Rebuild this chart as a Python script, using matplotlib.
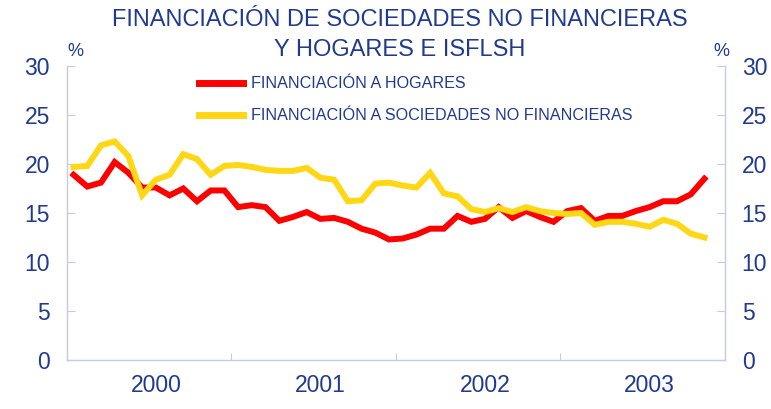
import matplotlib
matplotlib.use("Agg")
import matplotlib.pyplot as plt

# Datos mensuales, ene-2000 a nov-2003 (tasas interanuales, %)
hogares = [18.9, 17.7, 18.1, 20.2, 19.1, 17.6, 17.6, 16.8, 17.5, 16.2, 17.3, 17.3,
           15.6, 15.8, 15.6, 14.2, 14.6, 15.1, 14.4, 14.5, 14.1, 13.4, 13.0, 12.3,
           12.4, 12.8, 13.4, 13.4, 14.7, 14.1, 14.4, 15.6, 14.5, 15.2, 14.6, 14.1,
           15.2, 15.5, 14.2, 14.7, 14.7, 15.2, 15.6, 16.2, 16.2, 16.9, 18.5]
sociedades = [19.7, 19.8, 21.9, 22.3, 20.8, 16.8, 18.4, 18.9, 21.0, 20.5, 18.9, 19.8,
              19.9, 19.7, 19.4, 19.3, 19.3, 19.6, 18.6, 18.4, 16.2, 16.3, 18.0, 18.1,
              17.8, 17.6, 19.1, 17.0, 16.7, 15.4, 15.1, 15.5, 15.1, 15.6, 15.2, 15.0,
              14.9, 15.0, 13.8, 14.1, 14.1, 13.9, 13.6, 14.3, 13.9, 12.9, 12.5]
years = ["2000", "2001", "2002", "2003"]
yticks = [0, 5, 10, 15, 20, 25, 30]

BLUE = "#1f3a8f"
AXC = "#c5cae6"
plt.rcParams["font.family"] = ["Liberation Sans", "DejaVu Sans"]

fig = plt.figure(figsize=(7.71, 4.09), dpi=100)
ax = fig.add_axes([66.7 / 771, 49 / 409, (725 - 66.7) / 771, (360 - 66) / 409])

x = list(range(len(hogares)))
ax.plot(x, hogares, color="#ff0000", lw=4.3, label="FINANCIACIÓN A HOGARES",
        solid_joinstyle="miter")
ax.plot(x, sociedades, color="#ffd714", lw=4.3,
        label="FINANCIACIÓN A SOCIEDADES NO FINANCIERAS", solid_joinstyle="miter")

ax.set_xlim(-0.5, 47.5)
ax.set_ylim(0, 30)

ax.spines["top"].set_visible(False)
for s in ["left", "right", "bottom"]:
    ax.spines[s].set_color(AXC)
    ax.spines[s].set_linewidth(1.0)

ax.set_yticks(yticks)
ax.tick_params(axis="y", which="both", direction="in", length=6, color=AXC,
               labelsize=16.5, labelcolor=BLUE, pad=12, left=True, right=True,
               labelleft=True, labelright=True)

ax.set_xticks([11.5, 23.5, 35.5])
ax.set_xticklabels([])
ax.set_xticks([6, 18, 30, 42], minor=True)
ax.set_xticklabels(years, minor=True)
ax.tick_params(axis="x", which="major", direction="in", length=5, color=AXC)
ax.tick_params(axis="x", which="minor", length=0, labelsize=16.5,
               labelcolor=BLUE, pad=10)

fig.text(75 / 771, 1 - 51 / 409, "%", color=BLUE, fontsize=13, ha="center", va="center")
fig.text(721 / 771, 1 - 51 / 409, "%", color=BLUE, fontsize=13, ha="center", va="center")

fig.text(400 / 771, 1 - 20 / 409, "FINANCIACIÓN DE SOCIEDADES NO FINANCIERAS",
         color=BLUE, fontsize=17, ha="center", va="center")
fig.text(400 / 771, 1 - 50 / 409, "Y HOGARES E ISFLSH",
         color=BLUE, fontsize=17, ha="center", va="center")

leg = ax.legend(loc="upper left", bbox_to_anchor=(184 / 771, 1 - 62 / 409),
                bbox_transform=fig.transFigure, frameon=False, fontsize=11.6,
                handlelength=2.75, handletextpad=0.5, labelspacing=1.05)
for t in leg.get_texts():
    t.set_color(BLUE)
for h in leg.get_lines():
    h.set_linewidth(5)

fig.savefig("out.png", dpi=100)
